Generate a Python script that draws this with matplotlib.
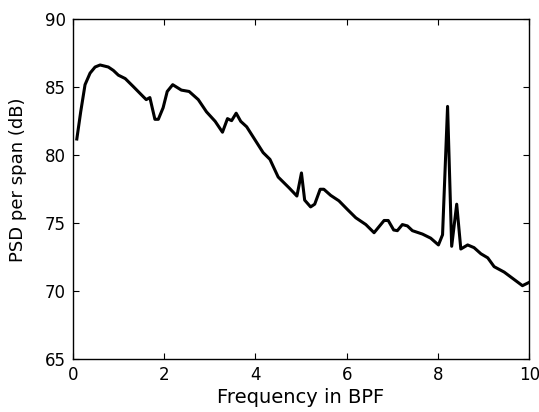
import matplotlib
matplotlib.use("Agg")
import matplotlib.pyplot as plt

freq = [0.09, 0.175, 0.27, 0.38, 0.49, 0.60, 0.78, 0.89, 1.00, 1.15, 1.33, 1.55, 1.61,
        1.69, 1.80, 1.875, 1.98, 2.07, 2.19, 2.38, 2.55, 2.75, 2.93, 3.12, 3.28, 3.39,
        3.48, 3.58, 3.68, 3.81, 3.99, 4.17, 4.32, 4.50, 4.74, 4.91, 5.01, 5.08, 5.21,
        5.30, 5.42, 5.50, 5.65, 5.83, 6.02, 6.20, 6.42, 6.60, 6.82, 6.91, 7.03, 7.11,
        7.22, 7.33, 7.44, 7.66, 7.84, 8.01, 8.10, 8.21, 8.30, 8.41, 8.50, 8.65, 8.79,
        8.94, 9.09, 9.23, 9.45, 9.67, 9.85, 10.0]
psd = [81.2, 83.2, 85.2, 86.05, 86.5, 86.65, 86.5, 86.25, 85.9, 85.65, 85.05, 84.3, 84.1,
       84.25, 82.65, 82.65, 83.5, 84.7, 85.2, 84.8, 84.7, 84.1, 83.2, 82.5, 81.7, 82.7,
       82.55, 83.1, 82.5, 82.1, 81.15, 80.2, 79.7, 78.4, 77.6, 77.0, 78.7, 76.7, 76.2,
       76.4, 77.5, 77.5, 77.05, 76.65, 76.0, 75.4, 74.9, 74.3, 75.2, 75.2, 74.5, 74.45,
       74.9, 74.8, 74.45, 74.2, 73.9, 73.4, 74.15, 83.6, 73.3, 76.4, 73.1, 73.4, 73.2,
       72.75, 72.45, 71.8, 71.4, 70.85, 70.4, 70.65]

xticks = [0, 2, 4, 6, 8, 10]
yticks = [65, 70, 75, 80, 85, 90]

plt.rcParams['font.family'] = ['DejaVu Sans']
fig = plt.figure(figsize=(5.39, 4.12), dpi=100)
ax = fig.add_axes([0.1349, 0.1286, 0.8471, 0.8241])
ax.plot(freq, psd, color='black', linewidth=2.2)
ax.set_xlim(0, 10)
ax.set_ylim(65, 90)
ax.set_xticks(xticks)
ax.set_yticks(yticks)
ax.tick_params(direction='in', top=True, right=True, length=4, width=0.8, labelsize=12)
ax.tick_params(axis='x', pad=5)
ax.tick_params(axis='y', pad=5)
for s in ax.spines.values():
    s.set_linewidth(1.0)
ax.set_xlabel('Frequency in BPF', fontsize=14, labelpad=3)
ax.set_ylabel('PSD per span (dB)', fontsize=13)
ax.yaxis.set_label_coords(-0.100, 0.528)
fig.savefig('out.png', dpi=100)
